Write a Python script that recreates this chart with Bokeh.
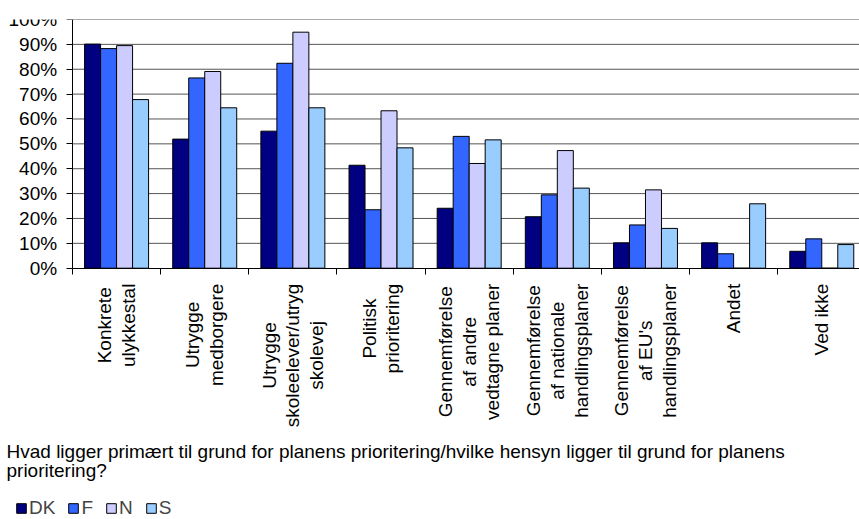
from bokeh.plotting import figure
from bokeh.models import ColumnDataSource, Range1d, FixedTicker, Label
from bokeh.transform import dodge
from bokeh.core.properties import value
from bokeh.embed import file_html
from bokeh.resources import INLINE
from math import pi

# ---- data ----
categories = [
    "Konkrete\nulykkestal",
    "Utrygge\nmedborgere",
    "Utrygge\nskoleelever/utryg\nskolevej",
    "Politisk\nprioritering",
    "Gennemførelse\naf andre\nvedtagne planer",
    "Gennemførelse\naf nationale\nhandlingsplaner",
    "Gennemførelse\naf EU's\nhandlingsplaner",
    "Andet",
    "Ved ikke",
]
series_names = ["DK", "F", "N", "S"]
dk_values = [90.1, 51.9, 55.1, 41.4, 24.1, 20.7, 10.2, 10.2, 6.8]
f_values = [88.3, 76.5, 82.4, 23.5, 53.0, 29.5, 17.4, 5.8, 11.8]
n_values = [89.5, 79.1, 94.9, 63.3, 42.1, 47.3, 31.5, 0.0, 0.0]
s_values = [67.8, 64.5, 64.5, 48.4, 51.6, 32.2, 16.0, 25.9, 9.5]
y_ticks = [0, 10, 20, 30, 40, 50, 60, 70, 80, 90, 100]
y_tick_labels = ["0%", "10%", "20%", "30%", "40%", "50%", "60%", "70%", "80%", "90%", "100%"]
question = ("Hvad ligger primært til grund for planens prioritering/hvilke hensyn ligger til grund for planens\n"
            "prioritering?")

colors = ["#000080", "#3366FF", "#CCCCFF", "#99CCFF"]
FONT = "Liberation Sans"
FS = "19px"

# ---- geometry (frame covers the whole canvas below a 19px top border) ----
W, H = 859, 519
TOP = 19
AXIS_X = 72                  # pixel position of the value axis
PX_PER_UNIT = 2.487          # pixels per percent
CAT_PX = 88.15               # pixels per category
FRAME_H = H - TOP
x_range = Range1d(-AXIS_X / CAT_PX, (W - AXIS_X) / CAT_PX)
y_range = Range1d(100 - FRAME_H / PX_PER_UNIT, 100)

src = ColumnDataSource(dict(
    x=[i + 0.5 for i in range(len(categories))],
    label=categories,
    DK=dk_values, F=f_values, N=n_values, S=s_values,
))
grid_src = ColumnDataSource(dict(y=[t for t in y_ticks if t > 0]))

p = figure(width=W, height=H, x_range=x_range, y_range=y_range,
           x_axis_location="above", y_axis_location="right",
           output_backend="svg", toolbar_location=None,
           min_border_left=0, min_border_right=0, min_border_top=TOP, min_border_bottom=0)
p.outline_line_color = None
p.background_fill_color = "white"
p.border_fill_color = "white"
p.xgrid.visible = False
p.ygrid.visible = False

ya = p.right[0]   # the labelled value axis
xa = p.above[0]   # the category axis

# horizontal grid lines at the tick values, from the value axis to the right edge (under the bars)
p.segment(x0=0, x1=x_range.end, y0="y", y1="y", source=grid_src,
          line_color="#555555", line_width=1)

bw = 0.1815
offsets = [-1.5 * bw, -0.5 * bw, 0.5 * bw, 1.5 * bw]
for name, col, off in zip(series_names, colors, offsets):
    p.vbar(x=dodge("x", off, range=p.x_range), top=name, bottom=0, width=bw, source=src,
           fill_color=col, line_color="black", line_width=1, legend_label=name)

# value axis with labels (left of the axis line)
ya.ticker = FixedTicker(ticks=y_ticks)
ya.major_label_overrides = {t: lab.rjust(4, "\u2007") for t, lab in zip(y_ticks, y_tick_labels)}
ya.fixed_location = 0
ya.bounds = (0, 100)
ya.major_tick_in = 6
ya.major_tick_out = 0
ya.minor_tick_in = 0
ya.minor_tick_out = 0
ya.major_label_standoff = -64
ya.major_label_text_font = FONT
ya.major_label_text_font_size = FS
ya.major_label_text_color = "black"
ya.axis_line_color = "black"
ya.major_tick_line_color = "black"

# category axis at y = 0, ticks at category boundaries pointing down
xa.ticker = FixedTicker(ticks=[], minor_ticks=list(range(len(categories) + 1)))
xa.fixed_location = 0
xa.bounds = (0, x_range.end)
xa.major_label_text_font_size = "0px"
xa.major_tick_out = 0
xa.major_tick_in = 0
xa.minor_tick_out = 0
xa.minor_tick_in = 6
xa.major_label_standoff = 0
xa.axis_line_color = "black"
xa.minor_tick_line_color = "black"

# category labels (rotated, centred lines)
p.text(x="x", y=-6.2, text="label", source=src, angle=pi / 2,
       anchor=value("center_right"), text_align="center",
       text_font=value(FONT), text_font_size=value(FS), text_color="black",
       text_line_height=1.13)

# question text
p.add_layout(Label(x=6, y=H - 440, x_units="screen", y_units="screen",
                   text=question, text_font=FONT, text_font_size=FS, text_color="black",
                   text_baseline="top", text_align="left", text_line_height=0.943))

# legend
lg = p.legend[0]
lg.orientation = "horizontal"
lg.location = (15, 0)
lg.padding = 0
lg.margin = 0
lg.spacing = 12
lg.glyph_width = 12
lg.glyph_height = 12
lg.label_standoff = 2
lg.label_width = 1
lg.label_height = 12
lg.label_text_font = FONT
lg.label_text_font_size = FS
lg.border_line_color = None
lg.background_fill_alpha = 0

open("out.html", "w").write(file_html(p, INLINE))
